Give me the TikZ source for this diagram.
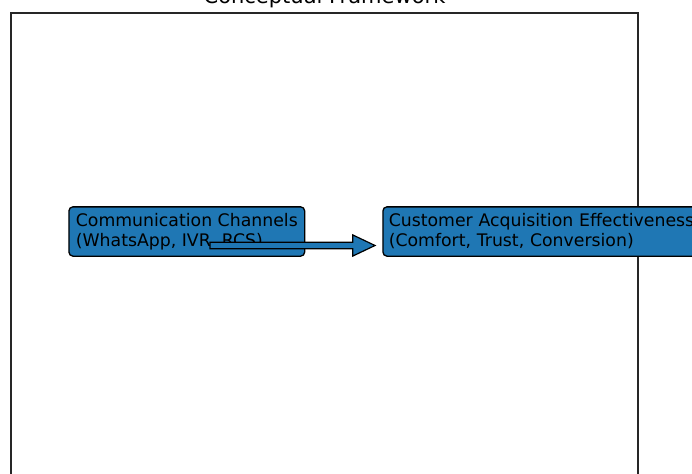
\documentclass[tikz,border=0pt]{standalone}
\usepackage{fontspec}
\setmainfont{DejaVu Sans}
\usetikzlibrary{calc}
\definecolor{mplblue}{HTML}{1F77B4}
\begin{document}
\begin{tikzpicture}[x=1pt,y=-1pt,
  every node/.style={font=\fontsize{17.3}{20}\selectfont},
  conceptbox/.style={draw=black,line width=1.3pt,fill=mplblue,rounded corners=4pt,
    align=left,inner xsep=5.8pt,inner ysep=0pt,minimum height=49.3pt,anchor=west},
  flowarrow/.style={draw=black,line width=1.2pt,fill=mplblue,line join=miter}]
\useasboundingbox (0,0) rectangle (692,473);
\clip (0,0) rectangle (692,473);
% axes frame
\draw[line width=1.1pt,black!85] (11,480) -- (11,13) -- (638,13) -- (638,480);
% title
\node[anchor=base,font=\fontsize{21}{25}\selectfont] (title) at (324.5,3.5) {Conceptual Framework};
% framework boxes
\node[conceptbox,minimum width=235.7pt] (channels) at (68.3,231.5)
  {Communication Channels\\(WhatsApp, IVR, RCS)};
\node[conceptbox,text width=330pt] (effect) at (382.3,231.5)
  {Customer Acquisition Effectiveness\\(Comfort, Trust, Conversion)};
% connector from channels to effectiveness
\coordinate (s) at ($(channels.west)+(141.7,14)$);
\coordinate (e) at ($(effect.west)+(-7.3,14)$);
\path[flowarrow] ($(s)+(0,-3.2)$) -- ($(e)+(-22.3,-3.2)$) -- ($(e)+(-22.3,-10.6)$)
  -- (e) -- ($(e)+(-22.3,10.6)$) -- ($(e)+(-22.3,3.2)$) -- ($(s)+(0,3.2)$) -- cycle;
\end{tikzpicture}
\end{document}
